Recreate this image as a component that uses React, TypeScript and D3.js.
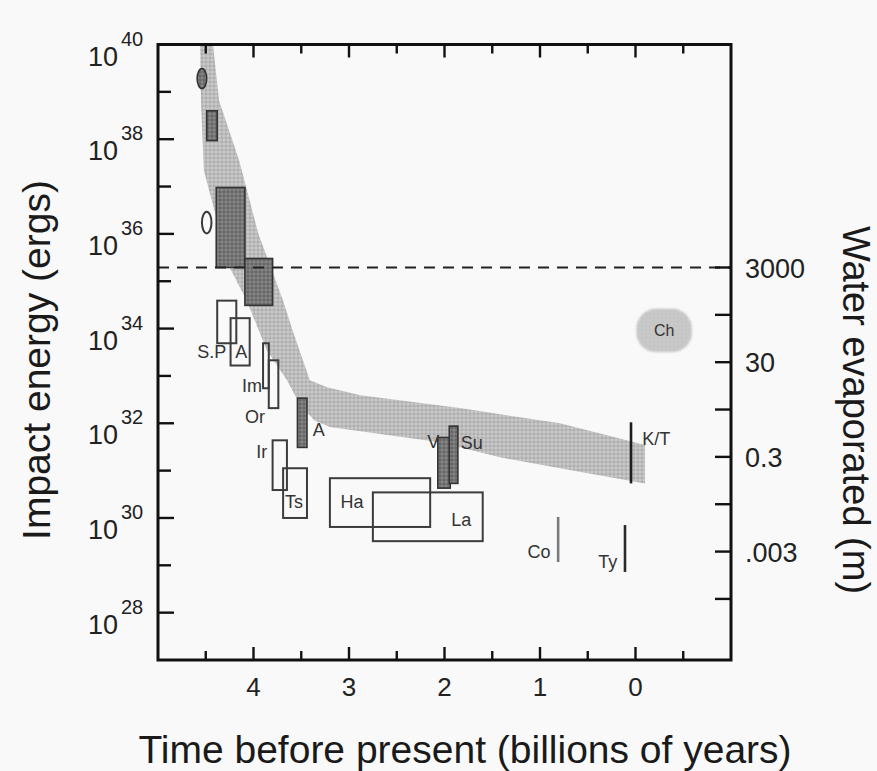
import React from 'react';
import * as d3 from 'd3';

// Time axis (billions of years before present) and impact-energy axis (log10 ergs)
const timeDomain: [number, number] = [5, -1];
const energyDomain: [number, number] = [27, 40];
const timeTicks = [4.5, 4, 3.5, 3, 2.5, 2, 1.5, 1, 0.5, 0, -0.5];
const timeLabels = [4, 3, 2, 1, 0];
const energyTicks = [28, 29, 30, 31, 32, 33, 34, 35, 36, 37, 38, 39, 40];
const energyLabels = [28, 30, 32, 34, 36, 38, 40];

// Ocean-vaporizing impact energy: boils off ~3000 m of water
const oceanVaporExp = 35.29;
const oceanDepth = 3000;
const waterTicks = [3000, 300, 30, 3, 0.3, 0.03, 0.003, 0.0003];
const waterLabels = ['3000', '30', '0.3', '.003'];
const waterLabelValues = [3000, 30, 0.3, 0.003];

// Envelope of the expected impact flux: [time Gyr, log10 energy]
const fluxEnvelope: [number, number][] = [
  [4.56, 40.1], [4.43, 40.1], [4.36, 38.81], [4.15, 37.55], [3.95, 36.01],
  [3.69, 34.59], [3.59, 33.96], [3.41, 32.91], [3.23, 32.76], [2.88, 32.59],
  [1.84, 32.32], [0.79, 32.0], [-0.1, 31.54], [-0.1, 30.73], [0.79, 31.05],
  [1.42, 31.28], [2.05, 31.6], [3.2, 31.92], [3.36, 32.06], [3.51, 32.38],
  [3.65, 32.91], [3.86, 33.54], [4.07, 34.59], [4.25, 35.29], [4.52, 37.34],
  [4.55, 38.81], [4.56, 40.1],
];

// Largest impacts (shaded): time span and energy span
const shadedEvents = [
  { name: 'b1', t: [4.49, 4.38], e: [37.97, 38.6] },
  { name: 'b2', t: [4.39, 4.09], e: [35.29, 36.98] },
  { name: 'b3', t: [4.09, 3.8], e: [34.49, 35.48] },
  { name: 'A', t: [3.54, 3.44], e: [31.49, 32.53] },
  { name: 'V', t: [2.07, 1.94], e: [30.63, 31.7] },
  { name: 'Su', t: [1.95, 1.86], e: [30.73, 31.94] },
];

// Lunar basins and terrestrial structures (open boxes)
const openEvents = [
  { name: 'S.P', t: [4.38, 4.18], e: [33.69, 34.59] },
  { name: 'A', t: [4.24, 4.04], e: [33.22, 34.22] },
  { name: 'Im', t: [3.9, 3.84], e: [32.74, 33.69] },
  { name: 'Or', t: [3.84, 3.74], e: [32.32, 33.33] },
  { name: 'Ir', t: [3.8, 3.65], e: [30.59, 31.64] },
  { name: 'Ts', t: [3.69, 3.44], e: [30.0, 31.05] },
  { name: 'Ha', t: [3.2, 2.15], e: [29.81, 30.84] },
  { name: 'La', t: [2.75, 1.6], e: [29.51, 30.54] },
];

// Ovals: [time, log10 energy, half-width Gyr, half-height decades]
const shadedOval = [4.54, 39.28, 0.05, 0.21];
const openOval = [4.49, 36.24, 0.05, 0.23];
const chicxulubSpot = [-0.3, 33.96, 0.29, 0.46];

// Single-age events: time and energy span
const lineEvents = [
  { name: 'K/T', t: 0.047, e: [30.73, 32.02], tone: '#1e1e1e' },
  { name: 'Co', t: 0.81, e: [29.07, 30.02], tone: '#7a7a7a' },
  { name: 'Ty', t: 0.11, e: [28.86, 29.85], tone: '#2a2a2a' },
];

// Where each event name is written: [text, time, log10 energy]
const labelSpots: [string, number, number][] = [
  ['S.P', 4.59, 33.37], ['A', 4.19, 33.37], ['Im', 4.12, 32.65], ['Or', 4.09, 32.0],
  ['A', 3.38, 31.73], ['Ir', 3.97, 31.26], ['Ts', 3.67, 30.21], ['Ha', 3.09, 30.21],
  ['La', 1.93, 29.83], ['V', 2.18, 31.47], ['Su', 1.83, 31.45], ['K/T', -0.07, 31.54],
  ['Co', 1.13, 29.15], ['Ty', 0.39, 28.94],
];

const W = 877;
const H = 771;
const FONT = '"Liberation Sans", Arial, Helvetica, sans-serif';

export default function App() {
  const x = d3.scaleLinear().domain(timeDomain).range([158, 731]);
  const y = d3.scaleLinear().domain(energyDomain).range([660, 44.5]);
  const [x0, x1] = x.range();
  const [yb, yt] = y.range();

  const waterToExp = (w: number) => Math.log10(w) - Math.log10(oceanDepth) + oceanVaporExp;

  const area = d3
    .line<[number, number]>()
    .x((d) => x(d[0]))
    .y((d) => y(d[1]));

  const box = (ev: { t: number[]; e: number[] }) => {
    const xa = x(ev.t[0]);
    const xb = x(ev.t[1]);
    const ya = y(ev.e[0]);
    const yc = y(ev.e[1]);
    return {
      x: Math.min(xa, xb),
      y: Math.min(ya, yc),
      width: Math.abs(xb - xa),
      height: Math.abs(yc - ya),
    };
  };

  const oval = (o: number[]) => ({
    cx: x(o[0]),
    cy: y(o[1]),
    rx: Math.abs(x(o[0] + o[2]) - x(o[0])),
    ry: Math.abs(y(o[1] + o[3]) - y(o[1])),
  });

  const shOval = oval(shadedOval);
  const opOval = oval(openOval);
  const ch = oval(chicxulubSpot);

  return (
    <svg
      width={W}
      height={H}
      viewBox={`0 0 ${W} ${H}`}
      style={{ position: 'absolute', left: 0, top: 0, background: '#f9f9f9' }}
      fontFamily={FONT}
    >
      <defs>
        <pattern id="lightDots" width="4" height="4" patternUnits="userSpaceOnUse">
          <rect width="4" height="4" fill="#c9c9c9" />
          <circle cx="2" cy="2" r="1.1" fill="none" stroke="#9c9c9c" strokeWidth="0.8" />
        </pattern>
        <pattern id="darkDots" width="4" height="4" patternUnits="userSpaceOnUse">
          <rect width="4" height="4" fill="#666" />
          <circle cx="2" cy="2" r="1.1" fill="none" stroke="#9a9a9a" strokeWidth="0.8" />
        </pattern>
        <pattern id="chDots" width="4" height="4" patternUnits="userSpaceOnUse">
          <rect width="4" height="4" fill="#d2d2d2" />
          <circle cx="2" cy="2" r="1.1" fill="none" stroke="#aaa" strokeWidth="0.8" />
        </pattern>
        <clipPath id="plotClip">
          <rect x={x0} y={yt} width={x1 - x0} height={yb - yt} />
        </clipPath>
        <filter id="soft" x="-20%" y="-20%" width="140%" height="140%">
          <feGaussianBlur stdDeviation="1.2" />
        </filter>
      </defs>

      <g clipPath="url(#plotClip)">
        <path d={area(fluxEnvelope) + 'Z'} fill="url(#lightDots)" />

        <rect
          x={ch.cx - ch.rx}
          y={ch.cy - ch.ry}
          width={ch.rx * 2}
          height={ch.ry * 2}
          rx={ch.ry * 0.9}
          fill="url(#chDots)"
          filter="url(#soft)"
        />
        <text x={ch.cx} y={ch.cy + 6} fontSize={16} textAnchor="middle" fill="#333">
          Ch
        </text>

        <ellipse {...shOval} fill="url(#darkDots)" stroke="#333" strokeWidth={1.6} />
        <ellipse {...opOval} fill="none" stroke="#3a3a3a" strokeWidth={2} />

        {openEvents.map((ev, i) => (
          <rect key={'o' + i} {...box(ev)} fill="none" stroke="#3c3c3c" strokeWidth={2} />
        ))}

        {shadedEvents.map((ev, i) => (
          <rect key={'s' + i} {...box(ev)} fill="url(#darkDots)" stroke="#333" strokeWidth={1.6} />
        ))}

        <line
          x1={x0}
          x2={x1}
          y1={y(oceanVaporExp)}
          y2={y(oceanVaporExp)}
          stroke="#222"
          strokeWidth={2.2}
          strokeDasharray="11 8"
        />

        {lineEvents.map((ev, i) => (
          <line
            key={'l' + i}
            x1={x(ev.t)}
            x2={x(ev.t)}
            y1={y(ev.e[0])}
            y2={y(ev.e[1])}
            stroke={ev.tone}
            strokeWidth={2.6}
          />
        ))}

        {labelSpots.map(([txt, t, e], i) => (
          <text key={'t' + i} x={x(t)} y={y(e)} fontSize={18} fill="#333">
            {txt}
          </text>
        ))}
      </g>

      {/* Frame */}
      <rect x={x0} y={yt} width={x1 - x0} height={yb - yt} fill="none" stroke="#111" strokeWidth={3} />

      {/* Time ticks, top and bottom */}
      {timeTicks.map((t) => {
        const major = Number.isInteger(t);
        const len = major ? 13 : 9;
        return (
          <g key={'tt' + t} stroke="#111" strokeWidth={2.4}>
            <line x1={x(t)} x2={x(t)} y1={yb} y2={yb - len} />
            <line x1={x(t)} x2={x(t)} y1={yt} y2={yt + len} />
          </g>
        );
      })}
      {timeLabels.map((t) => (
        <text key={'tl' + t} x={x(t)} y={696} fontSize={26} textAnchor="middle" fill="#222">
          {t}
        </text>
      ))}

      {/* Energy ticks, left */}
      {energyTicks.map((e) => (
        <line
          key={'et' + e}
          x1={x0}
          x2={x0 + (e % 2 === 0 ? 16 : 13)}
          y1={y(e)}
          y2={y(e)}
          stroke="#111"
          strokeWidth={2.4}
        />
      ))}
      {energyLabels.map((e) => (
        <g key={'el' + e} fill="#222">
          <text x={118} y={y(e) + 21} fontSize={27} textAnchor="end">
            10
          </text>
          <text x={121} y={y(e) + 1} fontSize={20}>
            {e}
          </text>
        </g>
      ))}

      {/* Water-depth ticks, right */}
      {waterTicks.map((w) => (
        <line
          key={'wt' + w}
          x1={x1}
          x2={x1 - 16}
          y1={y(waterToExp(w))}
          y2={y(waterToExp(w))}
          stroke="#111"
          strokeWidth={2.4}
        />
      ))}
      {waterLabels.map((lab, i) => (
        <text
          key={'wl' + lab}
          x={745}
          y={y(waterToExp(waterLabelValues[i])) + 10}
          fontSize={27}
          fill="#222"
        >
          {lab}
        </text>
      ))}

      {/* Axis titles */}
      <text x={465} y={763} fontSize={39} textAnchor="middle" fill="#1a1a1a">
        Time before present (billions of years)
      </text>
      <text
        transform="translate(50,360) rotate(-90)"
        fontSize={39}
        textAnchor="middle"
        fill="#1a1a1a"
      >
        Impact energy (ergs)
      </text>
      <text
        transform="translate(843,410) rotate(90)"
        fontSize={38}
        textAnchor="middle"
        fill="#1a1a1a"
      >
        Water evaporated (m)
      </text>
    </svg>
  );
}
